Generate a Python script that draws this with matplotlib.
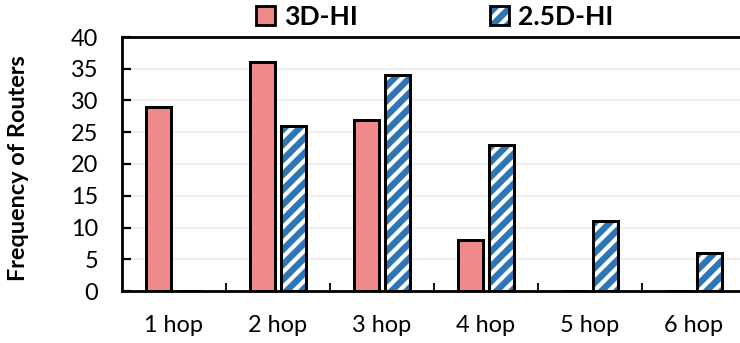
import matplotlib
matplotlib.use("Agg")
import matplotlib.pyplot as plt
import numpy as np
from matplotlib.patches import Patch
from matplotlib.legend_handler import HandlerTuple

categories = ["1 hop", "2 hop", "3 hop", "4 hop", "5 hop", "6 hop"]
hi3d = [29, 36, 27, 8, 0, 0]
hi25d = [0, 26, 34, 23, 11, 6]
series_names = ["3D-HI", "2.5D-HI"]
yticks = [0, 5, 10, 15, 20, 25, 30, 35, 40]

DPI = 180
W, H = 741, 343


def px(p):
    return p * 72.0 / DPI


plt.rcParams['font.family'] = ['Lato', 'DejaVu Sans']
plt.rcParams['hatch.linewidth'] = px(4.2)

pink = '#EF8A8A'
blue = '#2E75B6'

fig = plt.figure(figsize=(W / DPI, H / DPI), dpi=DPI)
ax = fig.add_axes([122 / W, 1 - 291 / H, 1 - 122 / W, (291 - 37) / H])

x = np.arange(len(categories))
bw = 0.245
off = 0.148
ax.bar(x - off, hi3d, bw, color=pink, edgecolor='black', linewidth=px(3), zorder=3)
ax.bar(x + off, hi25d, bw, color=blue, edgecolor='white', hatch='////', linewidth=0, zorder=3)
ax.bar(x + off, hi25d, bw, facecolor='none', edgecolor='black', linewidth=px(3), zorder=4)

ax.set_xlim(-0.5, 5.5 - 5 / 104)
ax.set_ylim(0, 40)
ax.set_yticks(yticks)
ax.set_xticks(x)
ax.set_xticklabels(categories)
ax.set_xticks(np.arange(0.5, 5.5, 1), minor=True)
fs = px(23.5)
ax.tick_params(axis='x', which='major', length=0, pad=px(24), labelsize=fs)
ax.tick_params(axis='x', which='minor', direction='in', length=px(8), width=px(1.8))
ax.tick_params(axis='y', direction='in', length=px(9), width=px(2.2), pad=px(24), labelsize=fs)
ax.yaxis.grid(True, color='#EBEBEB', linewidth=px(1.6), zorder=0)
ax.set_axisbelow(True)
for s in ['left', 'bottom', 'top']:
    ax.spines[s].set_linewidth(px(2.8))
ax.spines['right'].set_visible(False)

ax.set_ylabel("Frequency of Routers", fontsize=px(23.5), fontweight='bold')
ax.yaxis.set_label_coords((29 - 122) / 619, (291 - 168.5) / 254)

h1 = Patch(facecolor=pink, edgecolor='black', linewidth=px(2.8))
h2a = Patch(facecolor=blue, edgecolor='white', hatch='////', linewidth=0)
h2b = Patch(facecolor='none', edgecolor='black', linewidth=px(2.8))
lfs = px(26.5)
fig.legend([h1, (h2a, h2b)], series_names, ncol=2, loc='center',
           bbox_to_anchor=(0.587, 1 - 17 / H), frameon=False,
           prop={'weight': 'bold', 'size': lfs},
           handlelength=0.7, handleheight=0.7, handletextpad=0.35,
           columnspacing=5.0, borderpad=0.1,
           handler_map={tuple: HandlerTuple(ndivide=1, pad=0)})

fig.savefig("out.png", dpi=DPI)
